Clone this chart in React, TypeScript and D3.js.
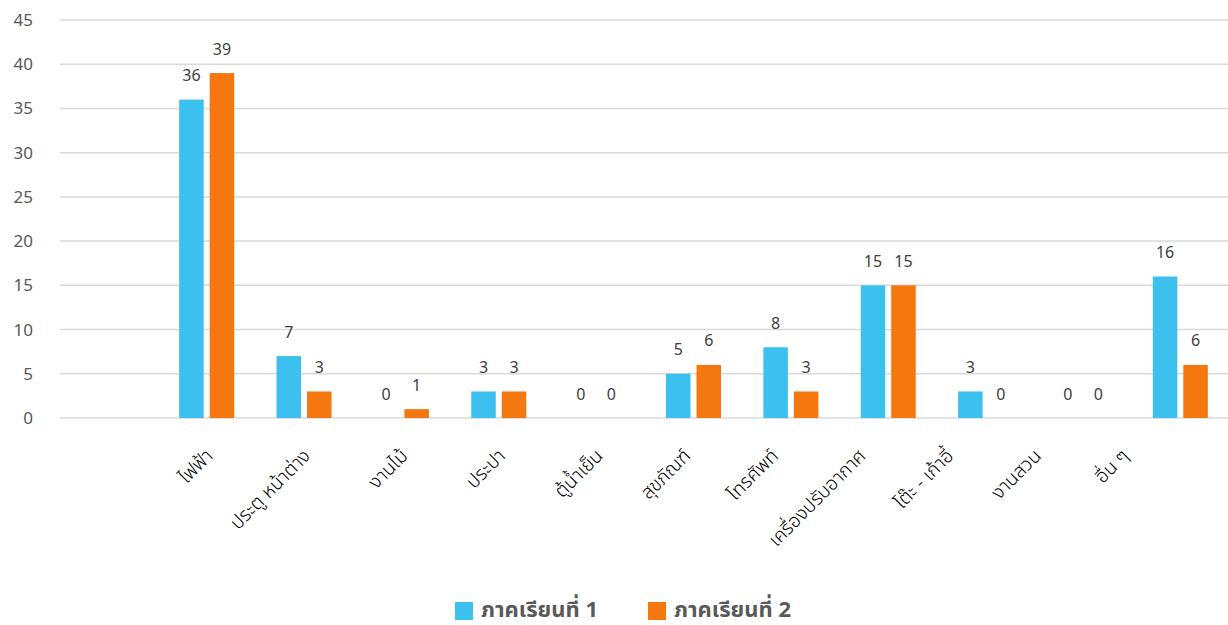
import React from "react";
import * as d3 from "d3";

const categories = ["ไฟฟ้า", "ประตู หน้าต่าง", "งานไม้", "ประปา", "ตู้น้ำเย็น", "สุขภัณฑ์", "โทรศัพท์", "เครื่องปรับอากาศ", "โต๊ะ - เก้าอี้", "งานสวน", "อื่น ๆ"];
const term1 = [36, 7, 0, 3, 0, 5, 8, 15, 3, 0, 16];
const term2 = [39, 3, 1, 3, 0, 6, 3, 15, 0, 0, 6];
const seriesNames = ["ภาคเรียนที่ 1", "ภาคเรียนที่ 2"];
const yTicks = [0, 5, 10, 15, 20, 25, 30, 35, 40, 45];

const W = 1228;
const H = 625;
const colors = ["#3BC0F0", "#F5770F"];
const FONT = "'Noto Sans', 'Noto Sans Thai', 'DejaVu Sans', sans-serif";

export default function App() {
  const y = d3.scaleLinear().domain([0, 45]).range([418, 20]);
  const x = d3.scaleBand<string>().domain(categories).range([158, 1229]).paddingInner(0).paddingOuter(0);
  const step = x.bandwidth();
  const barW = 24.5;
  const gap = 6;
  const series = [term1, term2];
  // label anchor positions drift slightly from the band centres in the original
  const labelX = d3.scaleLinear().domain([0, 4, categories.length - 1]).range([212, 602, 1128]);
  return (
    <div style={{ position: "absolute", left: 0, top: 0 }}>
      <svg width={W} height={H} style={{ display: "block", fontFamily: FONT }}>
        <rect width={W} height={H} fill="#fff" />
        {yTicks.map((t) => (
          <g key={t}>
            <line x1={60} x2={1228} y1={y(t)} y2={y(t)} stroke="#D9D9D9" strokeWidth={1.5} />
            <text x={33} y={y(t)} dy="0.35em" textAnchor="end" fontSize={17} fill="#595959">{t}</text>
          </g>
        ))}
        {series.map((vals, si) =>
          vals.map((v, i) => {
            const cx = (x(categories[i]) as number) + step / 2;
            const bx = si === 0 ? cx - gap / 2 - barW : cx + gap / 2;
            return (
              <g key={`${si}-${i}`}>
                {v > 0 && (
                  <rect x={bx} y={y(v)} width={barW} height={y(0) - y(v)} fill={colors[si]} />
                )}
                <text x={bx + barW / 2} y={y(v) - 18.5} textAnchor="middle" fontSize={16} fill="#404040">{v}</text>
              </g>
            );
          })
        )}
        {categories.map((c, i) => (
          <text key={c} transform={`translate(${labelX(i) + 2},${457}) rotate(-45)`} textAnchor="end" fontSize={19} fontWeight={300} fill="#000">{c}</text>
        ))}
        <g>
          <rect x={455} y={602} width={18} height={18} fill={colors[0]} />
          <text x={481} y={617} fontSize={22} fontWeight="bold" fill="#595959">{seriesNames[0]}</text>
          <rect x={648} y={602} width={18} height={18} fill={colors[1]} />
          <text x={674} y={617} fontSize={22} fontWeight="bold" fill="#595959">{seriesNames[1]}</text>
        </g>
      </svg>
    </div>
  );
}
